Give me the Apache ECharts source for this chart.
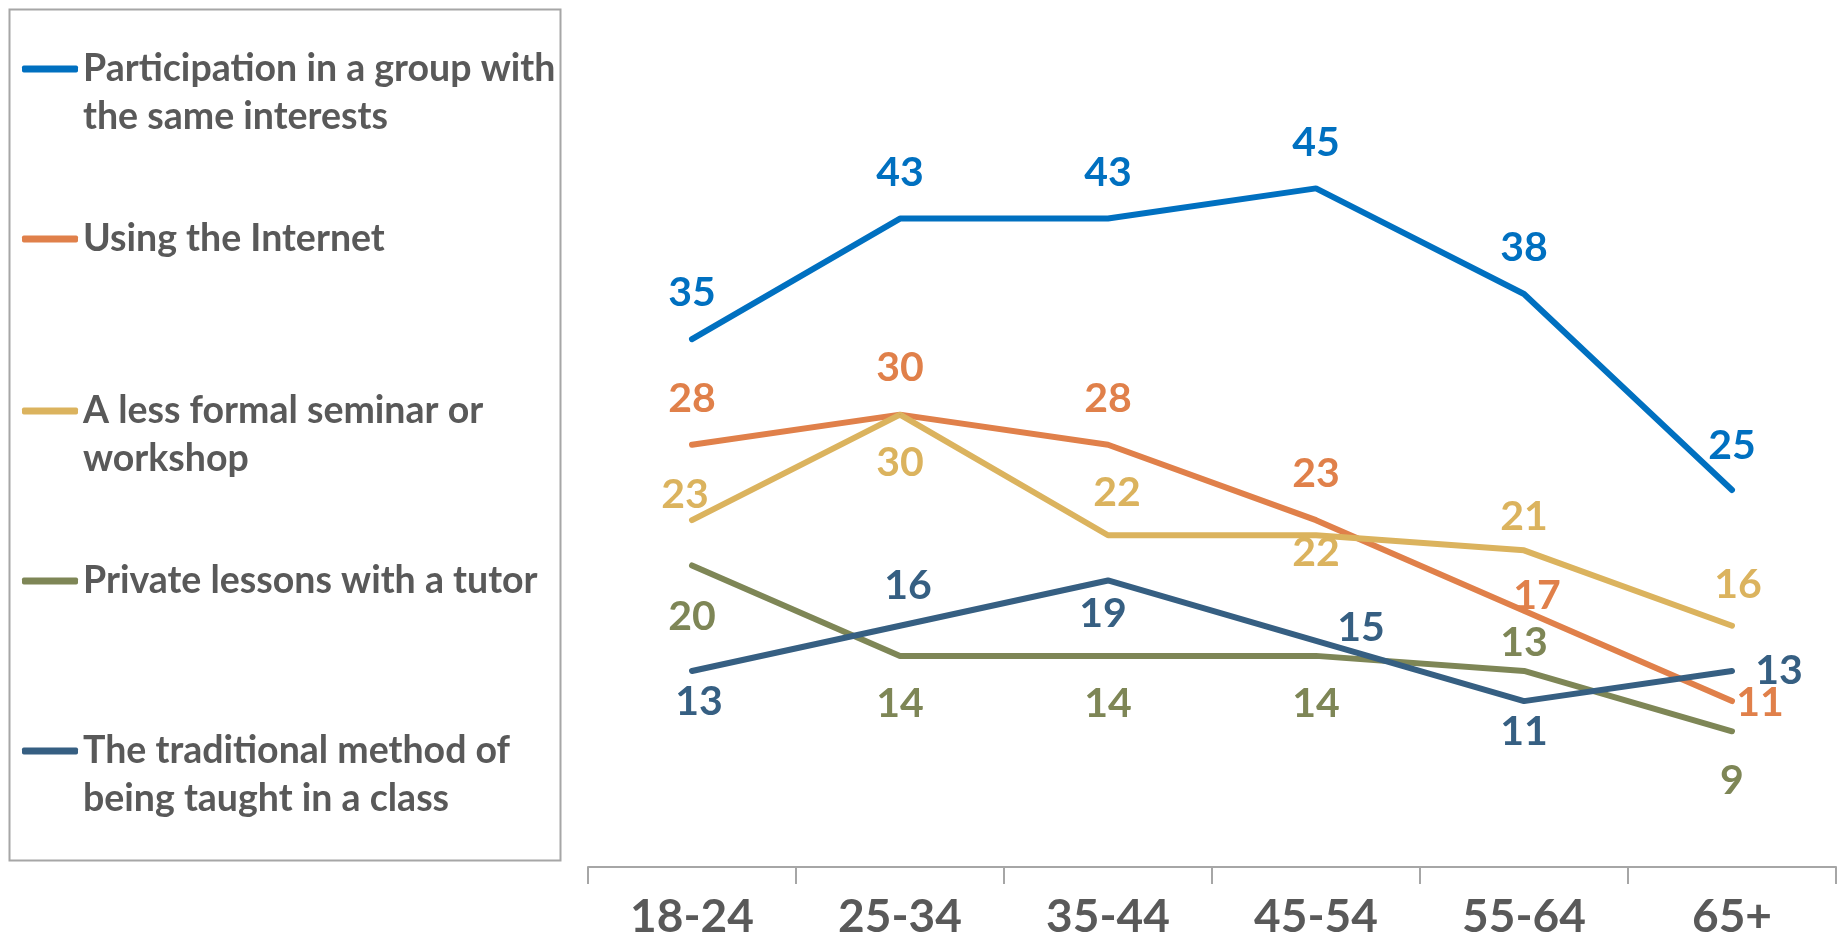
<!DOCTYPE html>
<html>
<head>
<meta charset="utf-8">
<script src="https://cdn.jsdelivr.net/npm/echarts@6/dist/echarts.min.js"></script>
<style>
html,body{margin:0;padding:0;background:#fff;}
#chart{width:1845px;height:940px;}
</style>
</head>
<body>
<div id="chart"></div>
<script>
// ---- data ----
const categories = ['18-24', '25-34', '35-44', '45-54', '55-64', '65+'];
const seriesNames = [
  'Participation in a group with the same interests',
  'Using the Internet',
  'A less formal seminar or workshop',
  'Private lessons with a tutor',
  'The traditional method of being taught in a class'
];
const legendLabels = [
  'Participation in a group with\nthe same interests',
  'Using the Internet',
  'A less formal seminar or\nworkshop',
  'Private lessons with a tutor',
  'The traditional method of\nbeing taught in a class'
];
const participation = [35, 43, 43, 45, 38, 25];
const internet = [28, 30, 28, 23, 17, 11];
const seminar = [23, 30, 22, 22, 21, 16];
const privateLessons = [20, 14, 14, 14, 13, 9];
const traditional = [13, 16, 19, 15, 11, 13];

// ---- styling ----
const colors = ['#0070C0', '#E0804A', '#DBB35E', '#7E8656', '#365F82'];
// label offsets [dx, dy] relative to the point
const labelOffsets = [
  [[0,-46],[0,-46],[0,-46],[0,-46],[0,-46],[0,-44]],
  [[0,-46],[0,-47],[0,-46],[0,-46],[13,-15],[28,2]],
  [[-7,-25],[0,48],[9,-42],[0,18],[0,-34],[6,-41]],
  [[0,51],[0,48],[0,48],[0,48],[0,-28],[0,50]],
  [[7,31],[8,-40],[-5,33],[45,-13],[0,31],[47,0]]
];
const legendCenters = [69, 239, 411, 581, 751];

const allData = [participation, internet, seminar, privateLessons, traditional];

const series = allData.map((vals, si) => ({
  name: seriesNames[si],
  type: 'line',
  data: vals.map((v, i) => ({
    value: v,
    label: { offset: labelOffsets[si][i] }
  })),
  symbol: 'circle',
  symbolSize: 1,
  showSymbol: true,
  itemStyle: { color: colors[si] },
  lineStyle: { color: colors[si], width: 6, cap: 'round' },
  label: {
    show: true,
    position: 'inside',
    color: colors[si],
    fontFamily: 'Lato',
    fontWeight: 'bold',
    fontSize: 41
  },
  emphasis: { disabled: true },
  animation: false
}));

const legends = seriesNames.map((n, i) => {
  const multi = legendLabels[i].indexOf('\n') >= 0;
  return {
    data: [n],
    orient: 'vertical',
    left: 22,
    top: legendCenters[i] - (multi ? 72 : 24),
    padding: 0,
    icon: 'roundRect',
    itemWidth: 56,
    itemHeight: 7,
    selectedMode: false,
    formatter: () => (multi ? '\n' : '') + legendLabels[i],
    textStyle: {
      color: '#595959',
      fontFamily: 'Lato',
      fontWeight: 'bold',
      fontSize: 37.5,
      lineHeight: 48
    }
  };
});

const chart = echarts.init(document.getElementById('chart'));
chart.setOption({
  backgroundColor: '#ffffff',
  animation: false,
  graphic: [{
    type: 'rect',
    shape: { x: 9.5, y: 9.5, width: 551, height: 851 },
    style: { fill: 'none', stroke: '#a6a6a6', lineWidth: 2 },
    silent: true
  }],
  legend: legends,
  grid: { left: 588, right: 9, top: 113, bottom: 72, containLabel: false },
  xAxis: {
    type: 'category',
    data: categories,
    boundaryGap: true,
    axisLine: { show: true, lineStyle: { color: '#a6a6a6', width: 2 } },
    axisTick: { show: true, length: 17, lineStyle: { color: '#a6a6a6', width: 2 } },
    axisLabel: {
      color: '#595959',
      fontFamily: 'Lato',
      fontWeight: 'bold',
      fontSize: 46,
      margin: 27
    }
  },
  yAxis: {
    type: 'value',
    min: 0,
    max: 50,
    show: false,
    splitLine: { show: false }
  },
  series: series
});
</script>
</body>
</html>
